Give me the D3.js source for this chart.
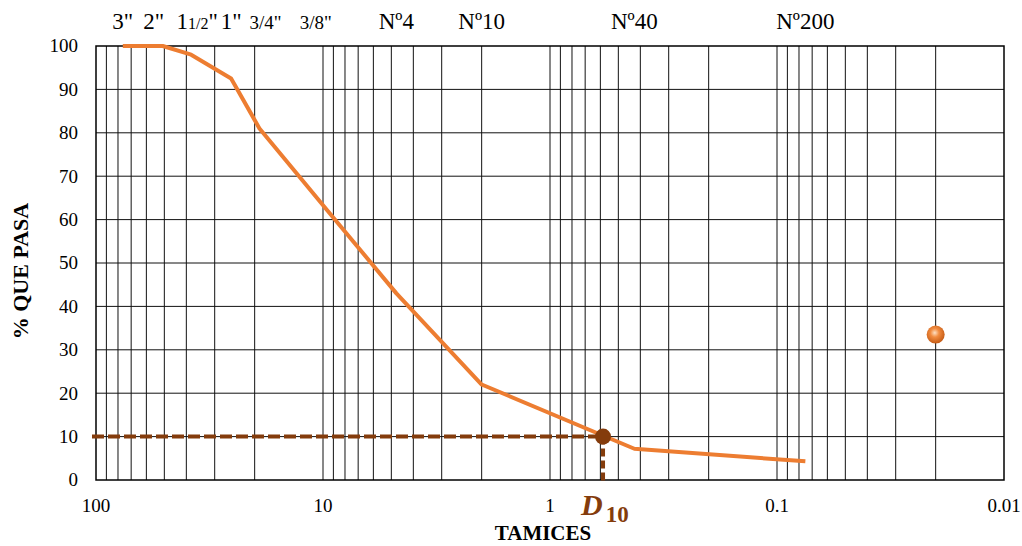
<!DOCTYPE html>
<html>
<head>
<meta charset="utf-8">
<script src="https://cdn.jsdelivr.net/npm/d3@7"></script>
<style>
  html, body { margin: 0; padding: 0; background: #fff; }
  svg { display: block; }
  svg text { font-family: "Liberation Serif", "DejaVu Serif", serif; }
</style>
</head>
<body>
<svg id="chart" width="1022" height="546"></svg>
<script>
// ---- data ----
const sieveSizes = [76.2, 50.8, 38.1, 25.4, 19.05, 9.525, 4.75, 2.0, 0.425, 0.075];
const percentPassing = [100, 100, 98, 92.5, 81, 62, 43, 22, 7.2, 4.3];
const sieveNames = ['3"', '2"', '1½"', '1"', '3/4"', '3/8"', 'Nº4', 'Nº10', 'Nº40', 'Nº200'];
const extraPoint = [{size: 0.02, pass: 33.5}];
const d10 = {size: 0.584, pass: 10};
const xTicks = [100, 10, 1, 0.1, 0.01];
const xTickLabels = ["100", "10", "1", "0.1", "0.01"];
const yTicks = [0, 10, 20, 30, 40, 50, 60, 70, 80, 90, 100];
const xTitle = "TAMICES";
const yTitle = "% QUE PASA";

// ---- layout ----
const FONT = '"Liberation Serif", "DejaVu Serif", serif';
const svg = d3.select("#chart");
const L = 96, R = 1004, T = 46, B = 480;
const x = d3.scaleLog().domain([100, 0.01]).range([L, R]);
const y = d3.scaleLinear().domain([0, 100]).range([B, T]);

// vertical grid lines (1..9 of each decade)
const gridX = [];
[10, 1, 0.1, 0.01].forEach(base => {
  for (let k = 2; k <= 9; k++) gridX.push(+(base * k).toPrecision(6));
});
gridX.push(10, 1, 0.1);

const grid = svg.append("g");
grid.selectAll("line.v").data(gridX).join("line")
  .attr("x1", d => x(d)).attr("x2", d => x(d))
  .attr("y1", T).attr("y2", B)
  .attr("stroke", "#111").attr("stroke-width", 1);
grid.selectAll("line.h").data(yTicks.slice(1, -1)).join("line")
  .attr("x1", L).attr("x2", R)
  .attr("y1", d => y(d)).attr("y2", d => y(d))
  .attr("stroke", "#111").attr("stroke-width", 1);

// plot border
svg.append("rect").attr("x", L).attr("y", T).attr("width", R - L).attr("height", B - T)
  .attr("fill", "none").attr("stroke", "#000").attr("stroke-width", 1.5);

// y axis labels
svg.append("g").selectAll("text").data(yTicks).join("text")
  .attr("x", 78).attr("y", d => y(d)).attr("dy", "0.34em")
  .attr("text-anchor", "end").attr("font-size", 19).attr("font-family", FONT).attr("fill", "#000")
  .text(d => d);

// x axis labels
svg.append("g").selectAll("text").data(xTicks).join("text")
  .attr("x", d => x(d)).attr("y", 512)
  .attr("text-anchor", "middle").attr("font-size", 19).attr("font-family", FONT).attr("fill", "#000")
  .text((d, i) => xTickLabels[i]);

// axis titles
svg.append("text").attr("x", 543).attr("y", 540).attr("text-anchor", "middle")
  .attr("font-size", 21).attr("font-family", FONT).attr("font-weight", "bold").text(xTitle);
svg.append("text").attr("transform", "translate(28,271) rotate(-90)")
  .attr("text-anchor", "middle").attr("font-size", 22).attr("font-family", FONT)
  .attr("font-weight", "bold").text(yTitle);

// top sieve labels
const labelShift = {'2"': -9, '1½"': 6, '3/4"': 6, '3/8"': -12};
const smallLabels = new Set(['3/4"', '3/8"']);
const tl = svg.append("g");
sieveNames.forEach((name, i) => {
  const t = tl.append("text")
    .attr("x", x(sieveSizes[i]) + (labelShift[name] || 0))
    .attr("y", 29).attr("text-anchor", "middle").attr("font-family", FONT).attr("fill", "#000");
  if (name === '1½"') {
    t.attr("font-size", 23);
    t.append("tspan").text("1");
    t.append("tspan").attr("font-size", 16).text("1/2");
    t.append("tspan").text('"');
  } else {
    t.attr("font-size", smallLabels.has(name) ? 19 : 23).text(name);
  }
});

// D10 dashed guides
const brown = "#843C0C";
svg.append("line")
  .attr("x1", L - 4).attr("x2", x(d10.size))
  .attr("y1", y(d10.pass)).attr("y2", y(d10.pass))
  .attr("stroke", brown).attr("stroke-width", 4).attr("stroke-dasharray", "12,4");
svg.append("line")
  .attr("x1", x(d10.size)).attr("x2", x(d10.size))
  .attr("y1", y(d10.pass)).attr("y2", B + 4)
  .attr("stroke", brown).attr("stroke-width", 4).attr("stroke-dasharray", "8,4");

// grading curve
const curve = sieveSizes.map((s, i) => ({size: s, pass: percentPassing[i]}));
svg.append("path").datum(curve)
  .attr("d", d3.line().x(d => x(d.size)).y(d => y(d.pass)))
  .attr("fill", "none").attr("stroke", "#ED7D31").attr("stroke-width", 4)
  .attr("stroke-linejoin", "round");

// D10 point
svg.append("circle").attr("cx", x(d10.size)).attr("cy", y(d10.pass)).attr("r", 8)
  .attr("fill", brown);

// D10 label
const dl = svg.append("text").attr("x", x(d10.size) - 22).attr("y", 515)
  .attr("fill", brown).attr("font-weight", "bold").attr("font-family", FONT);
dl.append("tspan").attr("font-size", 30).attr("font-style", "italic").text("D");
dl.append("tspan").attr("font-size", 23).attr("dy", 7).attr("dx", 3).text("10");

// extra ball point
const defs = svg.append("defs");
const rg = defs.append("radialGradient").attr("id", "ball").attr("cx", "45%").attr("cy", "40%").attr("r", "60%");
rg.append("stop").attr("offset", "0%").attr("stop-color", "#FDE0C4");
rg.append("stop").attr("offset", "40%").attr("stop-color", "#F28C40");
rg.append("stop").attr("offset", "100%").attr("stop-color", "#C45A14");
svg.append("g").selectAll("circle").data(extraPoint).join("circle")
  .attr("cx", d => x(d.size)).attr("cy", d => y(d.pass)).attr("r", 9)
  .attr("fill", "url(#ball)");
</script>
</body>
</html>
